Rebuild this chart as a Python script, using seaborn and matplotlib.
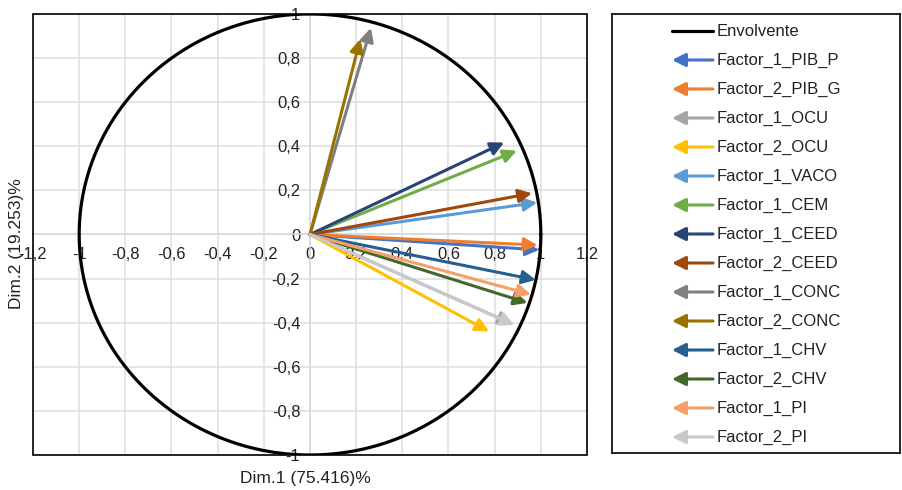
import matplotlib
matplotlib.use("Agg")
import numpy as np
import pandas as pd
import matplotlib.pyplot as plt
from matplotlib import font_manager
import seaborn as sns

# Variable coordinates on the two first dimensions
names = ["Factor_1_PIB_P", "Factor_2_PIB_G", "Factor_1_OCU", "Factor_2_OCU",
         "Factor_1_VACO", "Factor_1_CEM", "Factor_1_CEED", "Factor_2_CEED",
         "Factor_1_CONC", "Factor_2_CONC", "Factor_1_CHV", "Factor_2_CHV",
         "Factor_1_PI", "Factor_2_PI"]
dim1 = [0.993, 0.986, 0.875, 0.776, 0.984, 0.896, 0.841, 0.962,
        0.264, 0.218, 0.978, 0.942, 0.957, 0.885]
dim2 = [-0.070, -0.048, -0.405, -0.440, 0.145, 0.380, 0.417, 0.187,
        0.937, 0.887, -0.206, -0.310, -0.272, -0.410]
colors = ["#4472C4", "#ED7D31", "#A5A5A5", "#FFC000", "#5B9BD5", "#70AD47",
          "#264478", "#9E480E", "#7F7F7F", "#997300", "#255E91", "#43682B",
          "#F4A06A", "#C9C9C9"]

x_ticks = [-1.2, -1.0, -0.8, -0.6, -0.4, -0.2, 0, 0.2, 0.4, 0.6, 0.8, 1.0, 1.2]
y_ticks = [-1.0, -0.8, -0.6, -0.4, -0.2, 0, 0.2, 0.4, 0.6, 0.8, 1.0]

x_label = "Dim.1 (75.416)%"
y_label = "Dim.2 (19.253)%"

df = pd.DataFrame({"name": names, "dim1": dim1, "dim2": dim2, "color": colors})

sns.set_style("white")

# pick a narrow font if there is one
font = "Liberation Sans"
try:
    font_manager.findfont("Liberation Sans Narrow", fallback_to_default=False)
    font = "Liberation Sans Narrow"
except Exception:
    pass
plt.rcParams["font.family"] = [font, "DejaVu Sans"]
plt.rcParams["axes.unicode_minus"] = False

fig = plt.figure(figsize=(9.03, 4.9), dpi=100)
ax = fig.add_axes([33 / 903, 35 / 490, 554 / 903, 441 / 490])

# correlation circle (Envolvente)
t = np.linspace(0, 2 * np.pi, 400)
circle = pd.DataFrame({"x": np.cos(t), "y": np.sin(t)})
sns.lineplot(data=circle, x="x", y="y", sort=False, estimator=None,
             color="black", lw=2.3, ax=ax, zorder=3)

arrow = "-|>,head_length=0.8,head_width=0.4"
for _, r in df.iterrows():
    ax.annotate("", xy=(r["dim1"], r["dim2"]), xytext=(0, 0),
                arrowprops=dict(arrowstyle=arrow, color=r["color"], lw=2.2,
                                shrinkA=0, shrinkB=0),
                zorder=4)

ax.set_xlim(-1.2, 1.2)
ax.set_ylim(-1, 1)
ax.set_xticks(x_ticks)
ax.set_yticks(y_ticks)
fmt = lambda v: f"{v:g}".replace(".", ",")
ax.set_xticklabels([fmt(v) for v in x_ticks])
ax.set_yticklabels([fmt(v) for v in y_ticks])
ax.grid(True, color="#DEDEDE", lw=1.1)
ax.set_axisbelow(True)

# axes cross at zero, outer box in black
for s in ["left", "bottom"]:
    ax.spines[s].set_position(("data", 0))
    ax.spines[s].set_color("#D9D9D9")
    ax.spines[s].set_linewidth(1.1)
for s in ["top", "right"]:
    ax.spines[s].set_visible(False)
ax.add_patch(plt.Rectangle((0, 0), 1, 1, transform=ax.transAxes, fill=False,
                           edgecolor="black", lw=1.2, clip_on=False, zorder=5))
ax.tick_params(axis="both", length=0, labelsize=12, colors="#222222")
ax.tick_params(axis="x", pad=9)
ax.tick_params(axis="y", pad=7)
ax.set_xlabel("")
ax.set_ylabel("")
fig.text(305 / 903, 1 - 478 / 490, x_label, ha="center", va="center", fontsize=12.5, color="#222222")
fig.text(17 / 903, 1 - 244 / 490, y_label, ha="center", va="center", rotation=90,
         fontsize=12.5, color="#222222")

# legend panel
lax = fig.add_axes([612 / 903, 37 / 490, 288 / 903, 439 / 490])
lax.set_xlim(612, 900)
lax.set_ylim(453, 14)
lax.set_xticks([])
lax.set_yticks([])
for s in lax.spines.values():
    s.set_color("black")
    s.set_linewidth(1.2)
    s.set_visible(True)

entries = ["Envolvente"] + names
entry_colors = ["black"] + colors
for i, (lab, col) in enumerate(zip(entries, entry_colors)):
    yy = 31 + 29 * i
    if i == 0:
        lax.plot([672, 713], [yy, yy], color=col, lw=2.3)
    else:
        lax.annotate("", xy=(672, yy), xytext=(713, yy),
                     arrowprops=dict(arrowstyle=arrow, color=col, lw=2.2,
                                     shrinkA=0, shrinkB=0))
    lax.text(717, yy, lab, va="center", ha="left", fontsize=12, color="#222222")

fig.savefig("out.png", dpi=100)
